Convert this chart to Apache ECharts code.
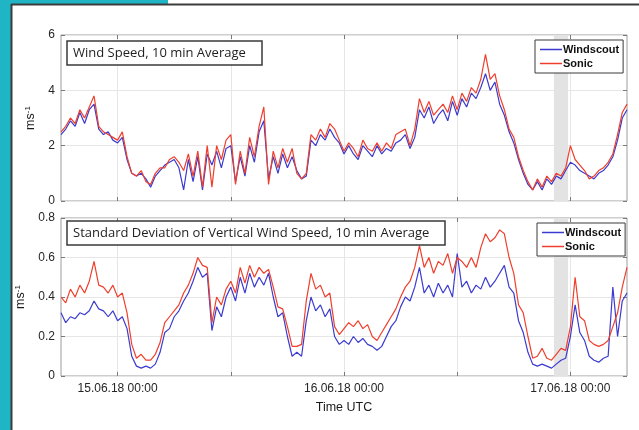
<!DOCTYPE html>
<html>
<head>
<meta charset="utf-8">
<title>Wind speed comparison</title>
<script src="https://cdn.jsdelivr.net/npm/echarts@6/dist/echarts.min.js"></script>
<style>
  html, body { margin: 0; padding: 0; background: #ffffff; }
  #chart { width: 639px; height: 430px; }
</style>
</head>
<body>
<div id="chart"></div>
<script>
// Time base: hours relative to 15.06.18 00:00 UTC, 30 min samples
const startHour = -6;
const stepHour = 0.5;
const endHour = 54;

// Tick positions (hours) and their labels
const tickHours = [0, 12, 24, 36, 48];
const labelHours = [0, 24, 48];
const labelTexts = ['15.06.18 00:00', '16.06.18 00:00', '17.06.18 00:00'];

// Shaded interval (hours)
const bandHours = [46.25, 47.75];

// Wind speed, 10 min average (m/s)
const speedWindscout = [
  2.4, 2.6, 2.9, 2.7, 3.2, 2.8, 3.3, 3.5, 2.6, 2.4,
  2.5, 2.2, 2.1, 2.3, 1.5, 1.0, 0.9, 1.0, 0.8, 0.5,
  0.9, 1.1, 1.3, 1.4, 1.5, 1.2, 0.4, 1.5, 0.7, 1.6,
  0.4, 1.7, 1.3, 1.8, 1.2, 1.9, 2.0, 0.7, 1.6, 0.9,
  2.0, 1.4, 2.5, 2.9, 0.8, 1.6, 1.0, 1.7, 1.2, 1.6,
  1.1, 0.8, 0.9, 2.2, 2.0, 2.4, 2.2, 2.6, 2.3, 2.1,
  1.7, 2.0, 1.7, 1.5, 2.0, 1.8, 1.6, 2.0, 1.7, 1.9,
  1.8, 2.1, 2.2, 2.4, 1.9, 2.3, 3.3, 3.0, 3.4, 2.8,
  3.1, 3.3, 2.9, 3.6, 3.1, 3.7, 3.4, 3.9, 3.7, 4.1,
  4.6, 4.0, 4.3, 3.5, 3.1, 2.5, 2.1, 1.5, 1.0, 0.6,
  0.4, 0.7, 0.4, 0.8, 0.6, 0.9, 0.8, 1.1, 1.4, 1.3,
  1.1, 1.0, 0.9, 0.8, 1.0, 1.1, 1.3, 1.6, 2.2, 3.0,
  3.3
];
const speedSonic = [
  2.5, 2.7, 3.0, 2.8, 3.3, 3.0, 3.4, 3.8, 2.7, 2.5,
  2.4, 2.3, 2.2, 2.5, 1.6, 1.0, 0.9, 1.1, 0.7, 0.6,
  1.0, 1.2, 1.2, 1.5, 1.6, 1.4, 1.1, 1.7, 0.9, 1.8,
  0.5, 2.0, 0.5, 2.0, 1.5, 2.2, 2.4, 0.6, 1.8, 1.0,
  2.3, 1.6, 2.7, 3.4, 0.6, 1.8, 1.2, 1.9, 1.4, 1.9,
  1.0, 0.8, 1.0, 2.4, 2.2, 2.6, 2.3, 2.8, 2.6, 2.2,
  1.8, 2.1, 1.9, 1.6, 2.2, 1.9, 1.8, 2.1, 1.8, 2.1,
  1.9, 2.4, 2.5, 2.6, 2.0, 2.6, 3.7, 3.2, 3.6, 3.1,
  3.3, 3.5, 3.2, 3.8, 3.3, 3.9, 3.6, 4.1, 3.9, 4.4,
  5.3, 4.4, 4.6, 3.8, 3.3, 2.6, 2.3, 1.6, 1.1, 0.7,
  0.4, 0.8, 0.5, 0.9, 0.7, 1.0, 0.9, 1.2, 2.0, 1.5,
  1.3, 1.1, 0.8, 0.9, 1.1, 1.2, 1.4, 1.7, 2.4, 3.2,
  3.5
];

// Standard deviation of vertical wind speed, 10 min average (m/s)
const sdevWindscout = [
  0.32, 0.27, 0.30, 0.29, 0.32, 0.31, 0.33, 0.38, 0.34, 0.33,
  0.30, 0.33, 0.28, 0.30, 0.24, 0.10, 0.05, 0.04, 0.05, 0.04,
  0.06, 0.12, 0.22, 0.24, 0.30, 0.33, 0.38, 0.42, 0.48, 0.55,
  0.50, 0.52, 0.23, 0.35, 0.30, 0.40, 0.45, 0.38, 0.50, 0.42,
  0.52, 0.45, 0.50, 0.46, 0.52, 0.40, 0.30, 0.32, 0.20, 0.10,
  0.12, 0.10, 0.28, 0.40, 0.33, 0.36, 0.30, 0.34, 0.20, 0.16,
  0.18, 0.16, 0.20, 0.17, 0.19, 0.16, 0.15, 0.13, 0.15, 0.20,
  0.25, 0.28, 0.35, 0.40, 0.38, 0.45, 0.55, 0.42, 0.46, 0.40,
  0.47, 0.42, 0.46, 0.40, 0.62, 0.45, 0.48, 0.42, 0.46, 0.44,
  0.50, 0.45, 0.48, 0.52, 0.56, 0.45, 0.42, 0.28, 0.22, 0.12,
  0.06, 0.05, 0.06, 0.05, 0.04, 0.06, 0.08, 0.09, 0.20, 0.36,
  0.22, 0.18, 0.10, 0.08, 0.07, 0.09, 0.10, 0.45, 0.20, 0.38,
  0.42
];
const sdevSonic = [
  0.40, 0.37, 0.44, 0.40, 0.46, 0.42, 0.48, 0.58, 0.46, 0.45,
  0.42, 0.46, 0.40, 0.42, 0.32, 0.16, 0.09, 0.11, 0.08, 0.08,
  0.11, 0.17, 0.27, 0.30, 0.33, 0.36, 0.42, 0.46, 0.52, 0.60,
  0.56, 0.55, 0.27, 0.40, 0.36, 0.44, 0.48, 0.42, 0.55, 0.47,
  0.56, 0.50, 0.55, 0.52, 0.54, 0.45, 0.35, 0.34, 0.25, 0.15,
  0.15, 0.16, 0.38, 0.52, 0.44, 0.46, 0.40, 0.42, 0.25, 0.21,
  0.24, 0.27, 0.25, 0.28, 0.24, 0.26, 0.20, 0.18, 0.22, 0.26,
  0.30, 0.34, 0.40, 0.45, 0.48, 0.55, 0.66, 0.55, 0.60, 0.52,
  0.58, 0.56, 0.62, 0.52, 0.60, 0.58, 0.55, 0.60, 0.55, 0.65,
  0.72, 0.68, 0.70, 0.74, 0.72, 0.60, 0.52, 0.36, 0.32, 0.20,
  0.09, 0.10, 0.14, 0.09, 0.08, 0.11, 0.14, 0.13, 0.25, 0.50,
  0.30, 0.28, 0.18, 0.16, 0.15, 0.16, 0.18, 0.25, 0.32, 0.45,
  0.55
];

const seriesNames = ['Windscout', 'Sonic'];
const lineColors = ['#3b3bd0', '#ef3f2c'];

function toPoints(values) {
  return values.map(function (v, i) { return [startHour + i * stepHour, v]; });
}

const fontMain = '"Liberation Sans", Arial, sans-serif';
const frameColor = '#9c9c9c';
const gridLineColor = '#e6e6e6';
const tickColor = '#7a7a7a';

const grids = [
  { left: 61, top: 35, width: 566, height: 166 },
  { left: 61, top: 218, width: 566, height: 158 }
];

function bottomAxis(gridIndex, showLabels) {
  return {
    type: 'value', gridIndex: gridIndex, min: startHour, max: endHour,
    position: 'bottom',
    axisLine: { show: false, onZero: false },
    axisTick: { show: true, inside: true, length: 4, customValues: tickHours,
                lineStyle: { color: tickColor } },
    axisLabel: {
      show: showLabels, customValues: labelHours, margin: 7,
      fontFamily: fontMain, fontSize: 12, color: '#262626',
      formatter: function (v) {
        const k = labelHours.indexOf(v);
        return k >= 0 ? labelTexts[k] : '';
      }
    },
    splitLine: { show: true, lineStyle: { color: gridLineColor, width: 1 } },
    name: showLabels ? 'Time UTC' : '',
    nameLocation: 'middle', nameGap: 25,
    nameTextStyle: { fontFamily: fontMain, fontSize: 12.5, color: '#1a1a1a' }
  };
}

function topAxis(gridIndex) {
  return {
    type: 'value', gridIndex: gridIndex, min: startHour, max: endHour,
    position: 'top',
    axisLine: { show: false, onZero: false },
    axisTick: { show: true, inside: true, length: 4, customValues: tickHours,
                lineStyle: { color: tickColor } },
    axisLabel: { show: false },
    splitLine: { show: false }
  };
}

function leftAxis(gridIndex, max, interval, digits) {
  return {
    type: 'value', gridIndex: gridIndex, min: 0, max: max, interval: interval,
    position: 'left',
    axisLine: { show: false, onZero: false },
    axisTick: { show: true, inside: true, length: 4, lineStyle: { color: tickColor } },
    axisLabel: {
      margin: 6, fontFamily: fontMain, fontSize: 12, color: '#262626',
      formatter: function (v) { return v === 0 ? '0' : v.toFixed(digits); }
    },
    splitLine: { show: true, lineStyle: { color: gridLineColor, width: 1 } },
    name: '{b|ms}{s|-1}',
    nameLocation: 'middle', nameRotate: 90, nameGap: 22,
    nameTextStyle: {
      rich: {
        b: { fontFamily: fontMain, fontSize: 12.5, color: '#1a1a1a' },
        s: { fontFamily: fontMain, fontSize: 8, color: '#1a1a1a', padding: [0, 0, 7, 0] }
      }
    }
  };
}

function rightAxis(gridIndex, max, interval) {
  return {
    type: 'value', gridIndex: gridIndex, min: 0, max: max, interval: interval,
    position: 'right',
    axisLine: { show: false, onZero: false },
    axisTick: { show: true, inside: true, length: 4, lineStyle: { color: tickColor } },
    axisLabel: { show: false },
    splitLine: { show: false }
  };
}

function lineSeries(name, color, values, xIdx, yIdx, withBand) {
  const s = {
    name: name, type: 'line', xAxisIndex: xIdx, yAxisIndex: yIdx,
    data: toPoints(values), symbol: 'none', smooth: false,
    lineStyle: { color: color, width: 1.2 },
    itemStyle: { color: color },
    animation: false
  };
  if (withBand) {
    s.markArea = {
      silent: true,
      itemStyle: { color: '#e3e3e3' },
      data: [[{ xAxis: bandHours[0] }, { xAxis: bandHours[1] }]]
    };
  }
  return s;
}

function titleBox(text, top) {
  return {
    text: text, left: 67, top: top,
    padding: [4, 16, 4, 6],
    borderColor: '#3a3a3a', borderWidth: 1.5, backgroundColor: '#ffffff',
    textStyle: { fontFamily: '"Open Sans", sans-serif', fontSize: 13, fontWeight: 'normal',
                 color: '#1e1e1e', lineHeight: 16 }
  };
}

function legendBox(left, top) {
  return {
    data: seriesNames, orient: 'vertical', left: left, top: top,
    icon: 'rect', itemWidth: 22, itemHeight: 1.5, itemGap: 3,
    padding: [4, 4, 4, 5],
    borderColor: '#3a3a3a', borderWidth: 1, backgroundColor: '#ffffff',
    textStyle: { fontFamily: fontMain, fontSize: 11, fontWeight: 'bold', color: '#111',
                 padding: [0, 0, 0, -4], lineHeight: 11 },
    selectedMode: false
  };
}

const chart = echarts.init(document.getElementById('chart'), null, { renderer: 'canvas' });

chart.setOption({
  backgroundColor: '#ffffff',
  animation: false,
  graphic: [
    { type: 'rect', shape: { x: 0, y: 0, width: 11, height: 430 }, style: { fill: '#1fb5c5' }, z: 100 },
    { type: 'rect', shape: { x: 0, y: 0, width: 168, height: 4 }, style: { fill: '#1fb5c5' }, z: 100 },
    { type: 'line', shape: { x1: 11, y1: 4.5, x2: 639, y2: 4.5 }, style: { stroke: '#3c3c3c', lineWidth: 2 }, z: 101 },
    { type: 'line', shape: { x1: 11.5, y1: 4, x2: 11.5, y2: 430 }, style: { stroke: '#3c3c3c', lineWidth: 2 }, z: 101 }
  ],
  title: [
    titleBox('Wind Speed, 10 min Average', 41),
    titleBox('Standard Deviation of Vertical Wind Speed, 10 min Average', 221)
  ],
  legend: [legendBox(535, 40), legendBox(537, 223)],
  grid: grids.map(function (g) {
    return Object.assign({ show: true, borderColor: frameColor, borderWidth: 1, backgroundColor: 'transparent' }, g);
  }),
  xAxis: [bottomAxis(0, false), topAxis(0), bottomAxis(1, true), topAxis(1)],
  yAxis: [leftAxis(0, 6, 2, 0), rightAxis(0, 6, 2), leftAxis(1, 0.8, 0.2, 1), rightAxis(1, 0.8, 0.2)],
  series: [
    lineSeries(seriesNames[0], lineColors[0], speedWindscout, 0, 0, true),
    lineSeries(seriesNames[1], lineColors[1], speedSonic, 0, 0, false),
    lineSeries(seriesNames[0], lineColors[0], sdevWindscout, 2, 2, true),
    lineSeries(seriesNames[1], lineColors[1], sdevSonic, 2, 2, false)
  ]
});
</script>
</body>
</html>
